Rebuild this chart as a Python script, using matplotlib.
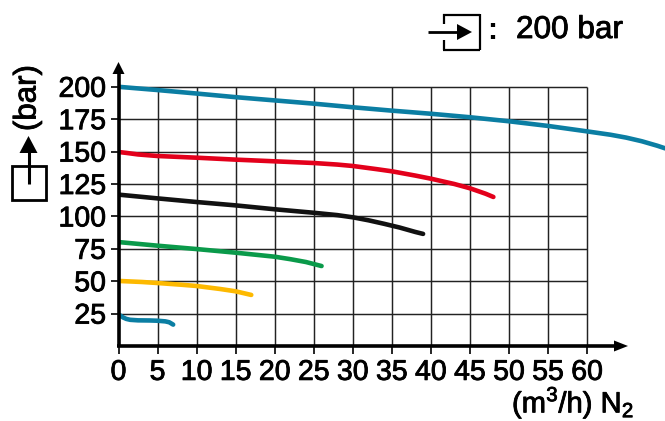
import matplotlib
matplotlib.use("Agg")
import matplotlib.pyplot as plt
import matplotlib.patheffects as pe
from matplotlib.patches import Rectangle
from matplotlib.transforms import Affine2D

plt.rcParams['font.family'] = ['Liberation Sans', 'DejaVu Sans']
plt.rcParams['mathtext.fontset'] = 'custom'
plt.rcParams['mathtext.rm'] = 'Liberation Sans'

W, H = 665, 421
x_ticks = list(range(0, 65, 5))
y_ticks = list(range(25, 225, 25))

top_x = [0, 5, 10, 15, 20, 25, 30, 35, 40, 45, 50, 55, 60, 63, 65, 67, 69, 70]
top_y = [200, 197.5, 194.8, 192, 189.5, 187, 184.2, 181.6, 179.2, 176.5, 173.4, 169.8, 165.6, 163, 160.8, 158, 154.5, 152.5]
red_x = [0, 1, 2.5, 5, 10, 15, 20, 25, 28, 30, 33, 35, 38, 40, 43, 45, 47, 48]
red_y = [149.7, 149, 147.8, 146.6, 145.3, 143.8, 142.5, 141.2, 140, 138.9, 136.5, 134.8, 131.5, 129.1, 125, 121.7, 117.5, 115]
black_x = [0, 5, 10, 15, 20, 25, 28, 30, 32, 34, 36, 38, 39]
black_y = [116.8, 113.9, 111.1, 108.5, 105.5, 102.8, 101, 99.3, 97, 94.3, 91.4, 88, 86.5]
green_x = [0, 5, 10, 15, 20, 22, 24, 26]
green_y = [80.2, 77.4, 74.8, 72, 68.9, 67, 64.8, 61.7]
yellow_x = [0, 3, 5, 8, 10, 13, 15, 17]
yellow_y = [50.2, 49.4, 48.6, 47.3, 46.3, 44, 42.2, 39.4]
teal_x = [0, 0.3, 0.6, 1, 1.5, 2.5, 4, 5, 6, 6.5, 7]
teal_y = [24.4, 23.2, 22, 20.9, 20.2, 19.8, 19.7, 19.5, 19, 18.3, 16.5]

series = [
    (top_x, top_y, '#0b7ea3'),
    (red_x, red_y, '#e3001b'),
    (black_x, black_y, '#111111'),
    (green_x, green_y, '#0a9a4a'),
    (yellow_x, yellow_y, '#fdb900'),
    (teal_x, teal_y, '#0b7ea3'),
]

fig = plt.figure(figsize=(W / 100, H / 100), dpi=100)
px = Affine2D().scale(1, -1).translate(0, H)  # reference pixel coordinates
bold = [pe.withStroke(linewidth=0.6, foreground='black')]

x0, x1 = 118.5, 665
y0, y1 = 346.0, 62.0
ax = fig.add_axes([x0 / W, 1 - y0 / H, (x1 - x0) / W, (y0 - y1) / H])
ax.set_xlim(0, (x1 - x0) / 7.81)
ax.set_ylim(0, (y0 - y1) / 1.296)
ax.patch.set_visible(False)
for s in ax.spines.values():
    s.set_visible(False)

ax.vlines(x_ticks[1:], 0, 200, color='#222222', lw=1.05, zorder=1)
ax.hlines(y_ticks, 0, 60, color='#222222', lw=1.05, zorder=1)

for xs, ys, c in series:
    ax.plot(xs, ys, color=c, lw=3.3, solid_capstyle='round', solid_joinstyle='round',
            zorder=3, clip_on=True)

ax.set_xticks(x_ticks)
ax.set_yticks(y_ticks)
ax.tick_params(axis='both', length=6, width=1.2, color='black', labelsize=20.5, pad=3)
ax.tick_params(axis='x', pad=4)
for lab in ax.get_xticklabels() + ax.get_yticklabels():
    lab.set_path_effects(bold)


def line(x_a, y_a, x_b, y_b, lw):
    fig.add_artist(plt.Line2D([x_a, x_b], [y_a, y_b], color='black', lw=lw,
                              transform=px, solid_capstyle='butt'))


def head(tip, base_l, base_r):
    fig.add_artist(plt.Polygon([tip, base_l, base_r], closed=True, color='black',
                               transform=px, lw=0))


# axes with arrows
line(118.5, 346, 118.5, 70, 2.6)
head((118.5, 62), (112.5, 74), (124.5, 74))
line(117, 346, 620, 346, 2.6)
head((628, 346), (614, 340.5), (614, 351.5))

# pressure-out symbol on the y axis
fig.add_artist(Rectangle((11.5, 165.5), 34, 34.5, fill=False, ec='black', lw=2, transform=px))
line(28.5, 184, 28.5, 150, 2.2)
head((28.5, 136), (19.5, 153), (37.5, 153))
fig.text(27.5, 98, '(bar)', transform=px, rotation=90, fontsize=22.5,
         ha='center', va='center', path_effects=bold)

# pressure-in symbol at the top
line(443, 14.5, 480, 14.5, 1.6)
line(479.5, 14, 479.5, 50, 1.6)
line(480, 49.5, 443, 49.5, 1.6)
line(444, 14, 444, 24, 1.6)
line(444, 40, 444, 50, 1.6)
line(428, 32, 460, 32, 2)
head((472, 32), (457, 24), (457, 40))
fig.text(492, 31, ':', transform=px, fontsize=22, fontweight='bold', ha='center', va='center')
fig.text(516, 30, '200 bar', transform=px, fontsize=22.7, ha='left', va='center', path_effects=bold)

# x axis title
fig.text(634, 403, '(m$^{3}$/h) N$_{2}$', transform=px, fontsize=21, ha='right', va='center',
         path_effects=bold)

fig.savefig('out.png', dpi=100)
